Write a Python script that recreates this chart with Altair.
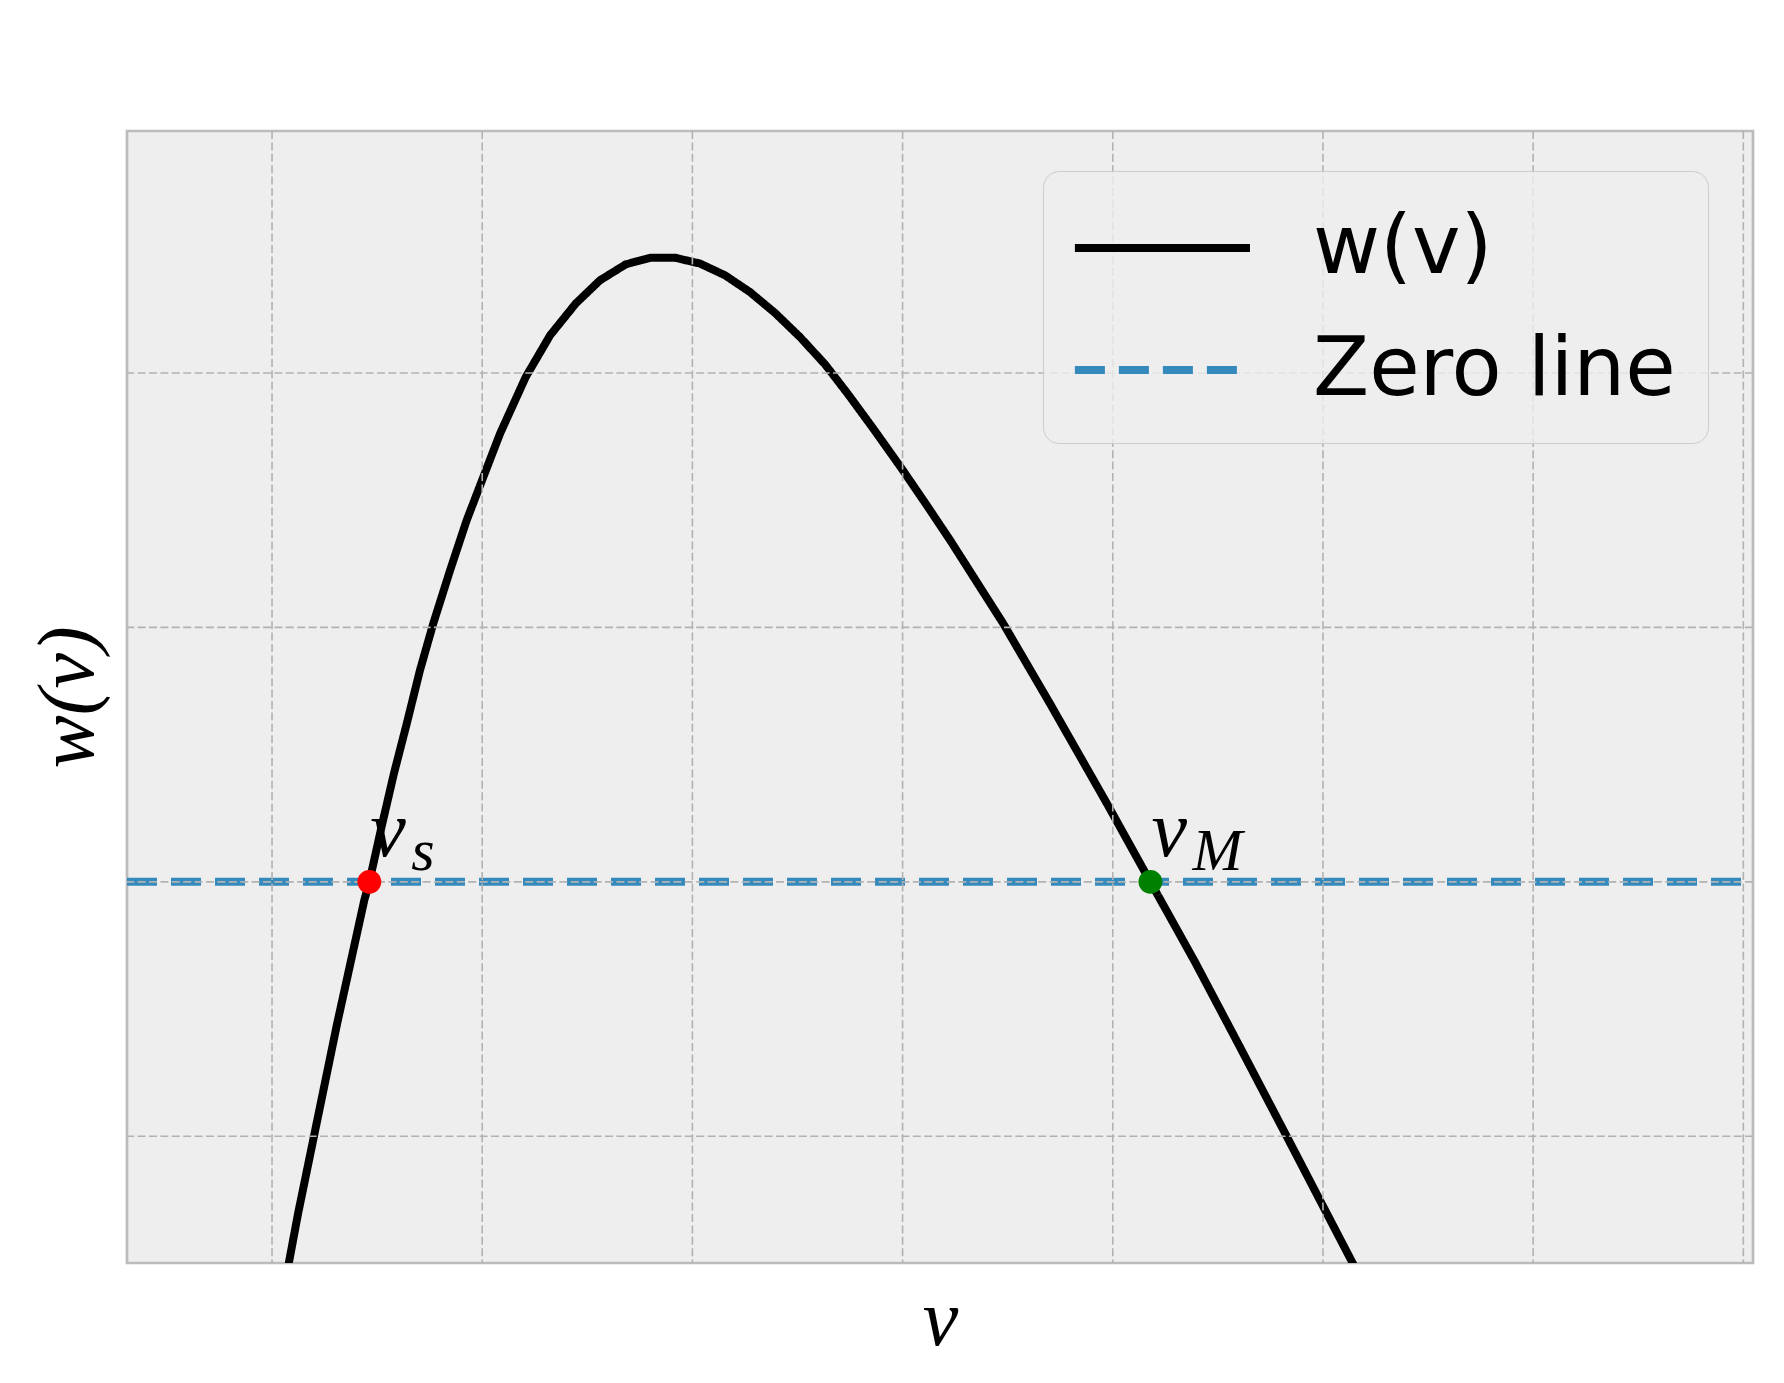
import altair as alt
import pandas as pd

# ---- data (arbitrary units: one grid step = 1) ----
v_vals = [0.057, 0.081, 0.124, 0.186, 0.309, 0.439, 0.463, 0.521, 0.580, 0.641,
          0.704, 0.767, 0.847, 0.926, 1.085, 1.207, 1.323, 1.445,
          1.560, 1.683, 1.802, 1.917, 2.036, 2.155, 2.274, 2.393, 2.512, 2.631,
          2.741, 2.860, 2.996, 3.115, 3.226, 3.479, 3.701, 3.972, 4.179, 4.390,
          4.605, 4.823, 5.005, 5.138, 5.205]
w_vals = [-1.6, -1.493, -1.303, -1.054, -0.560, -0.072, 0.000, 0.216, 0.426, 0.622,
          0.832, 1.015, 1.224, 1.421, 1.762, 1.984, 2.148, 2.273,
          2.364, 2.427, 2.453, 2.453, 2.430, 2.384, 2.318, 2.236, 2.141, 2.034,
          1.916, 1.782, 1.624, 1.480, 1.343, 1.015, 0.701, 0.308, 0.000, -0.313,
          -0.649, -0.993, -1.282, -1.493, -1.6]

x_domain = [-0.690, 7.046]
y_domain = [-1.498, 2.951]
x_ticks = [0, 1, 2, 3, 4, 5, 6, 7]
y_ticks = [-1, 0, 1, 2]

series_names = ["w(v)", "Zero line"]
series_colors = ["black", "#348ABD"]

root_v = [0.463, 4.179]
root_w = [0.0, 0.0]
root_colors = ["red", "green"]
root_main = ["v", "v"]
root_sub = ["s", "M"]
label_w = 0.1

# ---- tables ----
curve = pd.DataFrame({"v": v_vals, "w": w_vals, "series": series_names[0]})
zero = pd.DataFrame({"v": x_domain, "w": [0.0, 0.0], "series": series_names[1]})
lines_df = pd.concat([curve, zero], ignore_index=True)
lines_df["order"] = range(len(lines_df))

xgrid = pd.DataFrame({"v": x_ticks})
ygrid = pd.DataFrame({"w": y_ticks})
roots = pd.DataFrame({"v": root_v, "w": root_w, "c": root_colors})
labels = pd.DataFrame({"v": root_v, "w": [label_w] * 2, "main": root_main, "sub": root_sub})

xs = alt.Scale(domain=x_domain, nice=False, zero=False)
ys = alt.Scale(domain=y_domain, nice=False, zero=False)

title_font = "Liberation Serif"
x_axis = alt.Axis(title="v", labels=False, ticks=False, domain=False, grid=False,
                  titleFont=title_font, titleFontStyle="italic", titleFontWeight="normal",
                  titleFontSize=80, titlePadding=18, titleColor="black")
y_axis = alt.Axis(title="w(v)", labels=False, ticks=False, domain=False, grid=False,
                  titleFont=title_font, titleFontStyle="italic", titleFontWeight="normal",
                  titleFontSize=80, titlePadding=18, titleColor="black")

legend = alt.Legend(orient="none", legendX=916, legendY=40, title=None,
                    labelFont="DejaVu Sans", labelFontSize=82, labelColor="black",
                    labelLimit=800,
                    symbolType="M-1.1,0H3.17", symbolSize=82 * 82, symbolStrokeWidth=8,
                    labelOffset=148, padding=32, rowPadding=36,
                    fillColor="rgba(238,238,238,0.8)", strokeColor="#cccccc",
                    cornerRadius=16, zindex=1)

lines = alt.Chart(lines_df).mark_line(clip=True, strokeWidth=8).encode(
    x=alt.X("v:Q", scale=xs, axis=x_axis),
    y=alt.Y("w:Q", scale=ys, axis=y_axis),
    color=alt.Color("series:N", scale=alt.Scale(domain=series_names, range=series_colors),
                    legend=legend),
    strokeDash=alt.StrokeDash("series:N",
                              scale=alt.Scale(domain=series_names, range=[[1, 0], [30, 14]]),
                              legend=legend),
    order="order:Q",
)

grid_style = dict(color="#b2b2b2", strokeWidth=1.6, strokeDash=[8, 3.4])
vgrid = alt.Chart(xgrid).mark_rule(**grid_style).encode(x=alt.X("v:Q", scale=xs))
hgrid = alt.Chart(ygrid).mark_rule(**grid_style).encode(y=alt.Y("w:Q", scale=ys))

dots = alt.Chart(roots).mark_circle(size=570, opacity=1).encode(
    x=alt.X("v:Q", scale=xs), y=alt.Y("w:Q", scale=ys),
    color=alt.Color("c:N", scale=None),
)

main_text = alt.Chart(labels).mark_text(
    font=title_font, fontStyle="italic", fontSize=80, align="left",
    baseline="alphabetic", dx=1, color="black",
).encode(x=alt.X("v:Q", scale=xs), y=alt.Y("w:Q", scale=ys), text="main:N")

sub_text = alt.Chart(labels).mark_text(
    font=title_font, fontStyle="italic", fontSize=60, align="left",
    baseline="alphabetic", dx=42, dy=14, color="black",
).encode(x=alt.X("v:Q", scale=xs), y=alt.Y("w:Q", scale=ys), text="sub:N")

chart = alt.layer(lines, vgrid, hgrid, dots, main_text, sub_text).properties(
    width=1626, height=1132,
    padding={"left": 119, "top": 123, "right": 23, "bottom": 112},
    autosize=alt.AutoSizeParams(type="none"),
    background="white",
).configure_view(fill="#eeeeee", stroke="#bcbcbc", strokeWidth=2.7)

chart.save("out.html", embed_options={"renderer": "svg", "actions": False})
